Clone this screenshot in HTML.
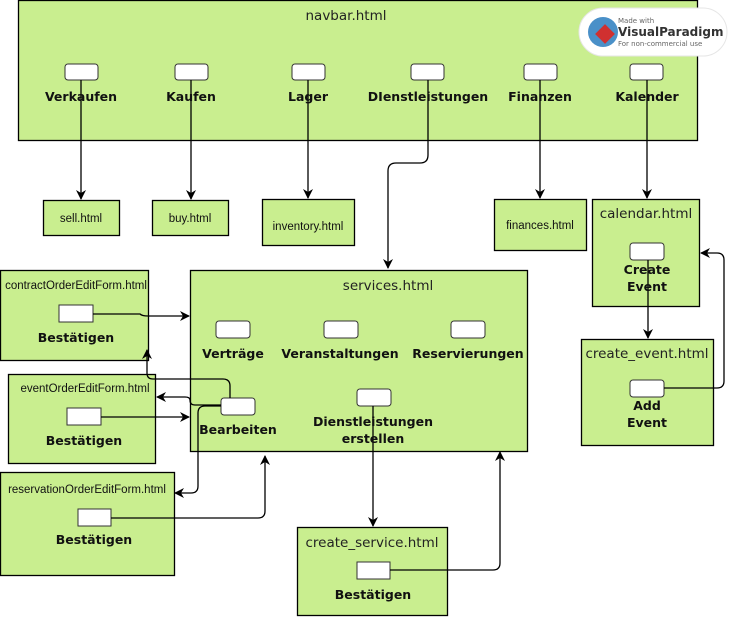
<!DOCTYPE html>
<html><head><meta charset="utf-8"><style>
html,body{margin:0;padding:0;background:#fff;width:735px;height:619px;overflow:hidden}
svg text{font-family:"DejaVu Sans",sans-serif}
.t{font-size:13.5px;fill:#222}
.b{font-size:12.5px;font-weight:bold;fill:#111}
.s{font-family:"Liberation Sans",sans-serif !important;font-size:11.5px;fill:#111}
</style></head><body>
<svg width="735" height="619" viewBox="0 0 735 619" xmlns="http://www.w3.org/2000/svg">
<defs><marker id="a" markerWidth="10" markerHeight="10" refX="9" refY="5" orient="auto" markerUnits="userSpaceOnUse"><path d="M0,0 L10,5 L0,10 L3,5 z" fill="#000"/></marker></defs>
<g fill="#c9ee8f" stroke="#000" stroke-width="1.3">
<rect x="18.5" y="0.5" width="679" height="140"/>
<rect x="43.5" y="200.5" width="76" height="35"/>
<rect x="152.5" y="200.5" width="76" height="35"/>
<rect x="262.5" y="199.5" width="92" height="46"/>
<rect x="494.5" y="199.5" width="92" height="51"/>
<rect x="592.5" y="199.5" width="107" height="107"/>
<rect x="190.5" y="270.5" width="337" height="181"/>
<rect x="0.5" y="270.5" width="148" height="90"/>
<rect x="8.5" y="374.5" width="147" height="89"/>
<rect x="0.5" y="472.5" width="174" height="103"/>
<rect x="297.5" y="527.5" width="150" height="88"/>
<rect x="581.5" y="339.5" width="132" height="106"/>
</g>
<g fill="#fff" stroke="#333" stroke-width="1">
<rect x="65" y="64" width="33" height="16" rx="3"/>
<rect x="175" y="64" width="33" height="16" rx="3"/>
<rect x="292" y="64" width="33" height="16" rx="3"/>
<rect x="411" y="64" width="33" height="16" rx="3"/>
<rect x="524" y="64" width="33" height="16" rx="3"/>
<rect x="630" y="64" width="33" height="16" rx="3"/>
<rect x="216" y="321" width="34" height="17" rx="3"/>
<rect x="324" y="321" width="34" height="17" rx="3"/>
<rect x="451" y="321" width="34" height="17" rx="3"/>
<rect x="221" y="398" width="34" height="17" rx="3"/>
<rect x="357" y="389" width="34" height="17" rx="3"/>
<rect x="630" y="243" width="34" height="17" rx="3"/>
<rect x="630" y="380" width="34" height="17" rx="3"/>
<rect x="59" y="305" width="34" height="17"/>
<rect x="67" y="408" width="34" height="17"/>
<rect x="78" y="509" width="33" height="17"/>
<rect x="357" y="562" width="33" height="17"/>
</g>
<g fill="none" stroke="#000" stroke-width="1.3" marker-end="url(#a)">
<path d="M81,80 V199"/>
<path d="M191,80 V199"/>
<path d="M308,80 V198"/>
<path d="M540,80 V198"/>
<path d="M647,80 V198"/>
<path d="M428,80 V155 Q428,163 420,163 H396 Q388,163 388,171 V268"/>
<path d="M648,260 V338"/>
<path d="M664,388 H717 Q724,388 724,381 V260 Q724,253 717,253 H701"/>
<path d="M373,406 V526"/>
<path d="M390,570 H493 Q500,570 500,563 V452"/>
<path d="M93,314 H140 Q142,316 148,316 H189"/>
<path d="M101,417 H189"/>
<path d="M111,518 H258 Q265,518 265,511 V456"/>
<path d="M230,398 V386 Q230,379 223,379 H153 Q147,379 147,373 V350"/>
<path d="M221,405 H195 Q190,405 190,400 Q190,397 185,397 H157"/>
<path d="M221,406 H205 Q198,406 198,413 V486 Q198,493 191,493 H175"/>
</g>
<g text-anchor="middle">
<text class="t" x="346" y="20">navbar.html</text>
<text class="b" x="81" y="101">Verkaufen</text>
<text class="b" x="191" y="101">Kaufen</text>
<text class="b" x="308" y="101">Lager</text>
<text class="b" x="428" y="101">DIenstleistungen</text>
<text class="b" x="540" y="101">Finanzen</text>
<text class="b" x="647" y="101">Kalender</text>
<text class="s" x="81" y="222">sell.html</text>
<text class="s" x="190" y="222">buy.html</text>
<text class="s" x="308" y="230">inventory.html</text>
<text class="s" x="540" y="229">finances.html</text>
<text class="t" x="646" y="218">calendar.html</text>
<text class="b" x="647" y="274">Create</text>
<text class="b" x="647" y="291">Event</text>
<text class="t" x="388" y="290">services.html</text>
<text class="b" x="233" y="358">Verträge</text>
<text class="b" x="340" y="358">Veranstaltungen</text>
<text class="b" x="468" y="358">Reservierungen</text>
<text class="b" x="238" y="434">Bearbeiten</text>
<text class="b" x="373" y="426">Dienstleistungen</text>
<text class="b" x="373" y="443">erstellen</text>
<text class="s" x="76" y="289">contractOrderEditForm.html</text>
<text class="b" x="76" y="342">Bestätigen</text>
<text class="s" x="85" y="392">eventOrderEditForm.html</text>
<text class="b" x="84" y="445">Bestätigen</text>
<text class="s" x="87" y="493">reservationOrderEditForm.html</text>
<text class="b" x="94" y="544">Bestätigen</text>
<text class="t" x="372" y="547">create_service.html</text>
<text class="b" x="373" y="599">Bestätigen</text>
<text class="t" x="647" y="358">create_event.html</text>
<text class="b" x="647" y="410">Add</text>
<text class="b" x="647" y="427">Event</text>
</g>
<g>
<rect x="579" y="8" width="148" height="48" rx="24" fill="#fff" stroke="#e6e6e6"/>
<circle cx="603" cy="32" r="15" fill="#4a90c8"/>
<rect x="598" y="27" width="14" height="14" fill="#d03030" transform="rotate(45 605 34)"/>
<text x="618" y="23" style="font-size:7px;fill:#666">Made with</text>
<text x="618" y="36" style="font-size:12px;font-weight:bold;fill:#333">VisualParadigm</text>
<text x="618" y="46" style="font-size:7px;fill:#666">For non-commercial use</text>
</g>
</svg>
</body></html>
